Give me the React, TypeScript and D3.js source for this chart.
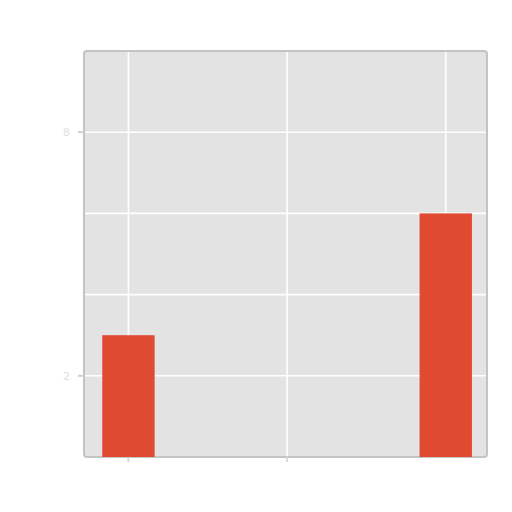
import React from "react";
import * as d3 from "d3";

const categories = [0, 2];
const values = [3, 6];
const xGridTicks = [0, 1, 2];
const xTickMarks = [0, 1];
const yGridTicks = [2, 4, 6, 8];
const yLabelTicks = [2, 8];

export default function App() {
  const left = 84, right = 487, top = 51, bottom = 457;
  const x = d3.scaleLinear().domain([-0.28, 2.26]).range([left, right]);
  const y = d3.scaleLinear().domain([0, 10]).range([bottom, top]);
  const barW = 0.33;
  return (
    <svg width={512} height={512} style={{ position: "absolute", left: 0, top: 0 }}>
      <rect x={0} y={0} width={512} height={512} fill="#ffffff" />
      <rect x={left} y={top} width={right - left} height={bottom - top} fill="#e3e3e3" stroke="#c4c4c4" strokeWidth={2} rx={3} />
      {yGridTicks.map((t) => (
        <line key={"yg" + t} x1={left + 1} x2={right - 1} y1={y(t)} y2={y(t)} stroke="#ffffff" strokeWidth={1.6} />
      ))}
      {xGridTicks.map((t) => (
        <line key={"xg" + t} x1={x(t)} x2={x(t)} y1={top + 1} y2={bottom - 1} stroke="#ffffff" strokeWidth={1.6} />
      ))}
      {categories.map((c, i) => (
        <rect key={"b" + i} x={x(c - barW / 2)} y={y(values[i])} width={x(c + barW / 2) - x(c - barW / 2)} height={y(0) - y(values[i])} fill="#e04a30" />
      ))}
      {yLabelTicks.map((t) => (
        <g key={"yl" + t}>
          <line x1={left - 6} x2={left} y1={y(t)} y2={y(t)} stroke="#cfcfcf" strokeWidth={2} />
          <text x={left - 14} y={y(t)} dy="0.35em" textAnchor="end" fontFamily="DejaVu Sans" fontSize={11} fill="#dedede">{t}</text>
        </g>
      ))}
      {xTickMarks.map((t) => (
        <line key={"xt" + t} x1={x(t)} x2={x(t)} y1={bottom} y2={bottom + 5} stroke="#d8d8d8" strokeWidth={2} />
      ))}
    </svg>
  );
}
